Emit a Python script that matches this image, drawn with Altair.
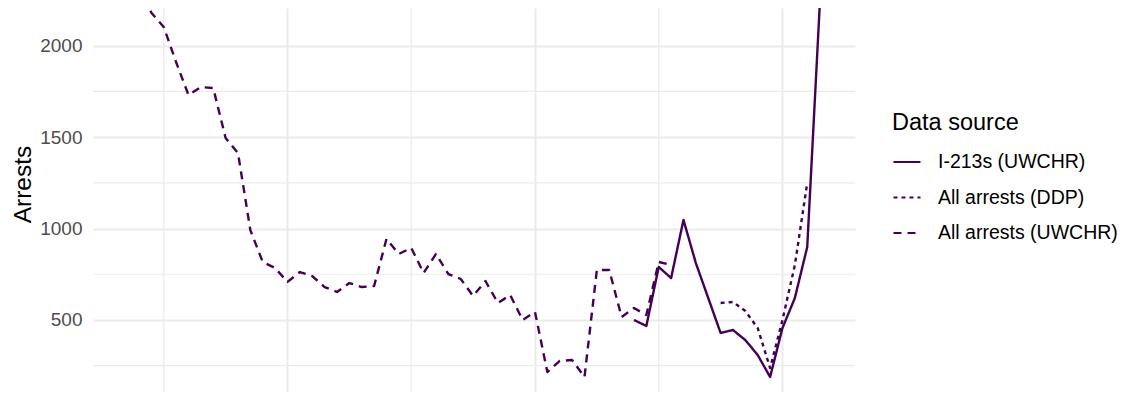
import altair as alt
import pandas as pd

# ---- data ----
uwchr_all_quarters = [
    "2012Q1", "2012Q2", "2012Q3", "2012Q4", "2013Q1", "2013Q2", "2013Q3", "2013Q4",
    "2014Q1", "2014Q2", "2014Q3", "2014Q4", "2015Q1", "2015Q2", "2015Q3", "2015Q4",
    "2016Q1", "2016Q2", "2016Q3", "2016Q4", "2017Q1", "2017Q2", "2017Q3", "2017Q4",
    "2018Q1", "2018Q2", "2018Q3", "2018Q4", "2019Q1", "2019Q2", "2019Q3", "2019Q4",
    "2020Q1", "2020Q2", "2020Q3", "2020Q4", "2021Q1", "2021Q2", "2021Q3", "2021Q4",
    "2022Q1", "2022Q2", "2022Q3", "2022Q4",
]
uwchr_all_values = [
    2330, 2180, 2102, 1910, 1730, 1774, 1768, 1495,
    1413, 991, 817, 784, 708, 762, 740, 680,
    653, 702, 680, 686, 943, 861, 894, 757,
    861, 751, 724, 631, 713, 593, 636, 500,
    544, 215, 276, 281, 188, 773, 773, 516,
    565, 527, 817, 801,
]

i213_quarters = [
    "2022Q1", "2022Q2", "2022Q3", "2022Q4", "2023Q1", "2023Q2", "2023Q3", "2023Q4",
    "2024Q1", "2024Q2", "2024Q3", "2024Q4", "2025Q1", "2025Q2", "2025Q3", "2025Q4",
]
i213_values = [500, 467, 790, 729, 1047, 811, 620, 429, 445, 390, 308, 188, 456, 620, 899, 2206]

ddp_quarters = ["2023Q4", "2024Q1", "2024Q2", "2024Q3", "2024Q4", "2025Q1", "2025Q2", "2025Q3"]
ddp_values = [593, 598, 549, 455, 237, 500, 800, 1249]

series_names = ["I-213s (UWCHR)", "All arrests (DDP)", "All arrests (UWCHR)"]
y_major = [500, 1000, 1500, 2000]
y_minor = [250, 750, 1250, 1750]
x_major = [2015, 2020, 2025]
x_minor = [2012.5, 2017.5, 2022.5]


def q_to_year(q):
    return int(q[:4]) + (int(q[-1]) - 1) / 4


rows = []
for name, qs, vals in [
    (series_names[0], i213_quarters, i213_values),
    (series_names[1], ddp_quarters, ddp_values),
    (series_names[2], uwchr_all_quarters, uwchr_all_values),
]:
    for q, v in zip(qs, vals):
        rows.append({"t": q_to_year(q), "arrests": v, "source": name})
df = pd.DataFrame(rows)

FONT = "Liberation Sans"
GRID = "#EBEBEB"
LINE = "#440154"

x_scale = alt.Scale(domain=[2011.071, 2026.465], nice=False, zero=False)
y_scale = alt.Scale(domain=[106, 2206], nice=False, zero=False)

x_axis = alt.Axis(
    values=x_major, grid=True, gridColor=GRID, gridWidth=2,
    labels=False, ticks=False, domain=False, title=None,
)
y_axis = alt.Axis(
    values=y_major, format="d", grid=True, gridColor=GRID, gridWidth=2,
    ticks=False, domain=False, labelFontSize=19, labelColor="#4D4D4D",
    labelFont=FONT, labelPadding=11,
    title="Arrests", titleFontSize=24.5, titleFont=FONT,
    titleFontWeight="normal", titleColor="black",
    titleX=-58, titleY=176,
)

minor_y = alt.Chart(pd.DataFrame({"arrests": y_minor})).mark_rule(
    color=GRID, strokeWidth=1.2
).encode(y=alt.Y("arrests:Q", scale=y_scale, axis=y_axis))

minor_x = alt.Chart(pd.DataFrame({"t": x_minor})).mark_rule(
    color=GRID, strokeWidth=1.2
).encode(x=alt.X("t:Q", scale=x_scale, axis=x_axis))

lines = alt.Chart(df).mark_line(
    color=LINE, strokeWidth=2.4, strokeJoin="round", clip=True
).encode(
    x=alt.X("t:Q", scale=x_scale, axis=x_axis),
    y=alt.Y("arrests:Q", scale=y_scale, axis=y_axis),
    strokeDash=alt.StrokeDash(
        "source:N",
        scale=alt.Scale(domain=series_names, range=[[1, 0], [4, 4], [8, 6]]),
        legend=alt.Legend(
            title="Data source", orient="none", legendX=799, legendY=103,
            padding=0, titleFontSize=23.5, titleFont=FONT, titleFontWeight="normal",
            titleColor="black", titlePadding=12.5,
            labelFontSize=19.5, labelFont=FONT, labelColor="black", labelOffset=16,
            labelLimit=400,
            symbolType="stroke", symbolSize=729, symbolStrokeWidth=2.2,
            symbolStrokeColor=LINE, rowPadding=10.5,
        ),
    ),
    detail="source:N",
)

chart = alt.layer(minor_y, minor_x, lines).properties(
    width=762,
    height=384,
    autosize=alt.AutoSizeParams(type="none"),
    padding={"left": 85, "top": 0, "right": 270, "bottom": 0},
).configure_view(stroke=None)

chart.save("out.html", embed_options={"renderer": "svg", "actions": False})
